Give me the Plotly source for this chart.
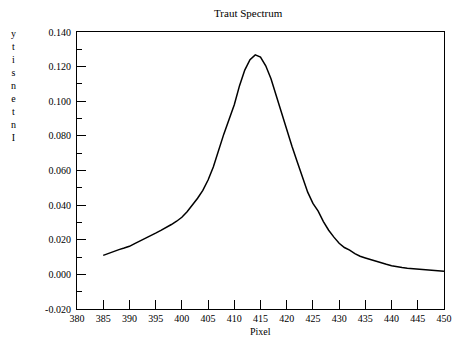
import plotly.graph_objects as go

pixel = [385, 386, 387, 388, 389, 390, 391, 392, 393, 394, 395, 396, 397, 398, 399,
         400, 401, 402, 403, 404, 405, 406, 407, 408, 409, 410, 411, 412, 413, 414,
         415, 416, 417, 418, 419, 420, 421, 422, 423, 424, 425, 426, 427, 428, 429,
         430, 431, 432, 433, 434, 435, 436, 437, 438, 439, 440, 441, 442, 443, 444,
         445, 446, 447, 448, 449, 450]
intensity = [0.0110, 0.0122, 0.0133, 0.0143, 0.0152, 0.0162, 0.0178, 0.0192, 0.0208, 0.0222,
             0.0238, 0.0254, 0.0270, 0.0288, 0.0307, 0.0330, 0.0362, 0.0398, 0.0440, 0.0485,
             0.0545, 0.0620, 0.0720, 0.0810, 0.0895, 0.0980, 0.1090, 0.1180, 0.1240, 0.1268,
             0.1255, 0.1205, 0.1130, 0.1030, 0.0935, 0.0840, 0.0740, 0.0650, 0.0560, 0.0475,
             0.0410, 0.0365, 0.0305, 0.0255, 0.0215, 0.0180, 0.0155, 0.0140, 0.0120, 0.0105,
             0.0095, 0.0085, 0.0075, 0.0065, 0.0058, 0.0050, 0.0043, 0.0040, 0.0036, 0.0033,
             0.0031, 0.0029, 0.0026, 0.0022, 0.0020, 0.0018]

x_ticks = [380, 385, 390, 395, 400, 405, 410, 415, 420, 425, 430, 435, 440, 445, 450]
x_tick_labels = ["380", "385", "390", "395", "400", "405", "410", "415", "420", "425",
                 "430", "435", "440", "445", "450"]
y_ticks = [-0.02, 0.0, 0.02, 0.04, 0.06, 0.08, 0.10, 0.12, 0.14]
y_tick_labels = ["-0.020", "0.000", "0.020", "0.040", "0.060", "0.080", "0.100", "0.120", "0.140"]

title_text = "Traut Spectrum"
x_title = "Pixel"
y_title = "Intensity"

serif = "Liberation Serif, Times New Roman, serif"

fig = go.Figure()
fig.add_trace(go.Scatter(x=pixel, y=intensity, mode="lines",
                         line=dict(color="black", width=1.5), showlegend=False,
                         hoverinfo="skip"))

fig.update_layout(
    width=453, height=338,
    margin=dict(l=77, r=9, t=32, b=29, autoexpand=False),
    paper_bgcolor="white", plot_bgcolor="white",
    font=dict(family=serif, color="black", size=10),
    showlegend=False,
)
fig.update_xaxes(
    range=[380, 450], tickvals=x_ticks, ticktext=x_tick_labels,
    ticks="inside", ticklen=9, tickwidth=1, tickcolor="black",
    showline=True, linecolor="black", linewidth=1.2, mirror=True,
    showgrid=False, zeroline=False, tickfont=dict(size=10, family=serif),
    automargin=False,
)
fig.update_yaxes(
    range=[-0.02, 0.14], tickvals=y_ticks, ticktext=y_tick_labels,
    ticks="inside", ticklen=9, tickwidth=1, tickcolor="black",
    minor=dict(dtick=0.01, ticks="inside", ticklen=5, tickcolor="black", showgrid=False),
    showline=True, linecolor="black", linewidth=1.2, mirror=True,
    showgrid=False, zeroline=False, tickfont=dict(size=10, family=serif),
    ticklabelstandoff=3, automargin=False,
)

fig.add_annotation(text=title_text, xref="paper", yref="paper", x=0.468, y=1.0,
                   yshift=19, showarrow=False, xanchor="center", yanchor="middle",
                   font=dict(size=11, family=serif))
fig.add_annotation(text=x_title, xref="paper", yref="paper", x=0.5, y=0,
                   yshift=-22, showarrow=False, xanchor="center", yanchor="middle",
                   font=dict(size=10, family=serif))
fig.add_annotation(text="<br>".join(reversed(list(y_title))), xref="paper", yref="paper",
                   x=0, xshift=-64, y=0.5, yshift=85, showarrow=False,
                   xanchor="center", yanchor="middle", align="center",
                   font=dict(size=10, family=serif))

fig.write_html("out.html", config={"displayModeBar": False},
               post_script="document.body.style.margin='0';document.body.style.overflow='hidden';")
